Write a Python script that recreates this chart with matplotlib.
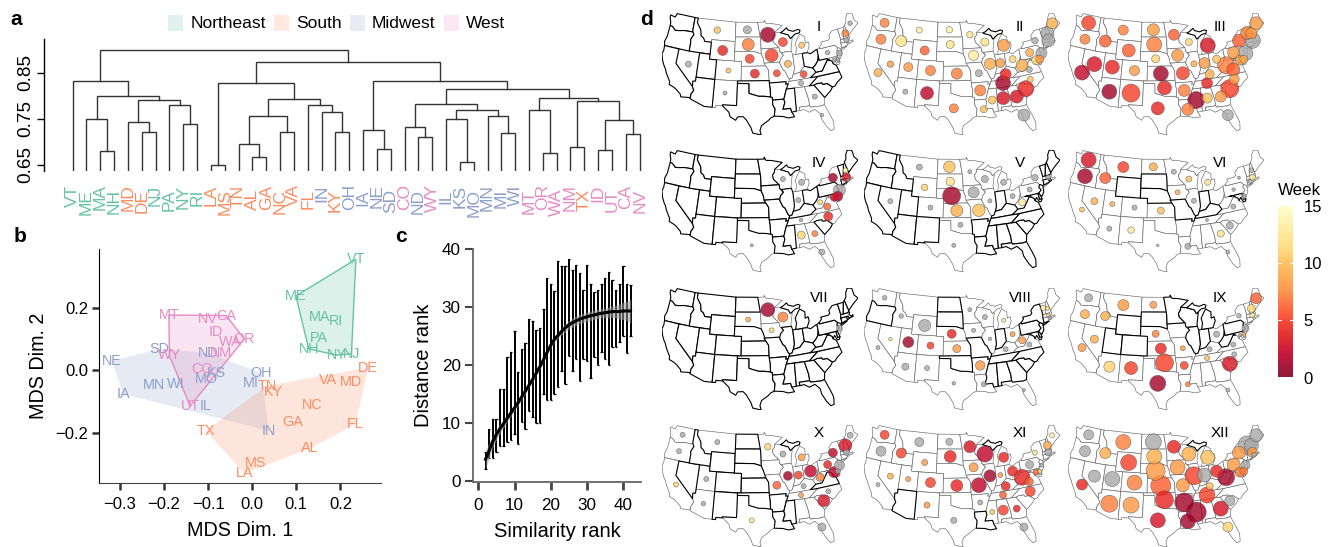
import numpy as np
import matplotlib
matplotlib.use("Agg")
import matplotlib.pyplot as plt
from matplotlib.collections import PolyCollection
from matplotlib.colors import Normalize
from matplotlib.patches import Rectangle

plt.rcParams["font.family"] = ["Liberation Sans", "DejaVu Sans"]

W, H = 1330, 547

# region colours
GREEN, ORANGE, BLUE, PINK = "#66C2A5", "#FC8D62", "#8DA0CB", "#E78AC3"
REGION_NAMES = ["Northeast", "South", "Midwest", "West"]
REGION_COLORS = [GREEN, ORANGE, BLUE, PINK]

NORTHEAST = ["VT", "ME", "MA", "NH", "NJ", "PA", "NY", "RI"]
SOUTH = ["MD", "DE", "LA", "MS", "TN", "AL", "GA", "NC", "VA", "FL", "KY", "TX"]
MIDWEST = ["IN", "OH", "IA", "NE", "SD", "ND", "IL", "KS", "MO", "MN", "MI", "WI"]
WEST = ["CO", "WY", "MT", "OR", "WA", "NM", "ID", "UT", "CA", "NV"]

# ---- panel a: merge tree, (height, left, right) ----
TREE = (0.9004,
        (0.8327, "VT",
         (0.7992,
          (0.749, "ME", (0.679, "MA", "NH")),
          (0.7905,
           (0.7424, "MD", (0.722, "DE", "NJ")),
           (0.7795, "PA", (0.738, "NY", "RI"))))),
        (0.8742,
         (0.8283,
          (0.649, "LA", "MS"),
          (0.792,
           (0.7555,
            (0.695, "TN", (0.6667, "AL", "GA")),
            (0.7213, "NC", "VA")),
           (0.7788, "FL",
            (0.7643, "IN", (0.7213, "KY", "OH"))))),
         (0.8327,
          (0.7257, "IA", (0.6835, "NE", "SD")),
          (0.8152,
           (0.781,
            (0.7308, "CO", (0.7111, "ND", "WY")),
            (0.7686,
             (0.7483, "IL", (0.6551, "KS", "MO")),
             (0.7563, "MN", (0.7191, "MI", "WI")))),
           (0.7956,
            (0.7686, "MT", (0.6762, "OR", "WA")),
            (0.789,
             (0.6886, "NM", "TX"),
             (0.7468,
              (0.6828, "ID", "UT"),
              (0.717, "CA", "NV"))))))))

# ---- panel b: MDS coordinates ----
MDS_NE = {"VT": (0.235, 0.357), "ME": (0.099, 0.239), "MA": (0.152, 0.170), "RI": (0.190, 0.159),
          "PA": (0.150, 0.105), "NH": (0.128, 0.069), "NY": (0.191, 0.049), "NJ": (0.225, 0.053)}
MDS_SOUTH = {"DE": (0.263, 0.008), "VA": (0.172, -0.031), "MD": (0.224, -0.039), "TN": (0.033, -0.049),
             "KY": (0.049, -0.070), "NC": (0.135, -0.111), "GA": (0.091, -0.165), "FL": (0.234, -0.173),
             "AL": (0.131, -0.251), "TX": (-0.106, -0.194), "MS": (0.007, -0.299), "LA": (-0.017, -0.331)}
MDS_MIDWEST = {"IN": (0.037, -0.194), "MI": (-0.004, -0.041), "OH": (0.021, -0.009), "KS": (-0.081, -0.010),
               "MO": (-0.105, -0.028), "IL": (-0.106, -0.113), "WI": (-0.174, -0.043), "MN": (-0.222, -0.047),
               "IA": (-0.293, -0.076), "NE": (-0.318, 0.030), "SD": (-0.211, 0.069), "ND": (-0.100, 0.056)}
MDS_WEST = {"MT": (-0.189, 0.178), "NV": (-0.101, 0.165), "CA": (-0.059, 0.176), "ID": (-0.082, 0.122),
            "WA": (-0.049, 0.092), "OR": (-0.018, 0.101), "NM": (-0.072, 0.055), "WY": (-0.188, 0.048),
            "CO": (-0.115, 0.005), "UT": (-0.141, -0.115)}

# ---- panel c ----
RANKS = list(range(2, 43))
RANK_LOW = [2, 4, 4, 5, 6, 6, 6.7, 7, 8, 6.3, 10.2, 9, 12, 11, 10, 10, 15, 14, 14, 15, 16.2, 19, 16.7, 21.5,
            19, 21, 17.2, 21, 20.7, 17.8, 21.4, 20, 22.3, 21, 20, 23, 23, 24, 25, 22, 25]
RANK_HIGH = [5, 9, 10.7, 10.7, 15.8, 15.8, 21.3, 22.3, 25.8, 18.8, 22.8, 23.8, 28, 27.5, 26, 26.3, 29.6, 35, 34,
             32.8, 38, 37, 37, 38.2, 36.3, 37.3, 35.8, 33, 37.3, 34, 32.5, 33, 34, 35, 36, 34.7, 33, 34, 37, 34, 33.8]
SMOOTH = [3.7, 5.2, 6.8, 8.0, 9.0, 9.9, 10.8, 11.7, 12.6, 13.5, 14.5, 15.5, 16.5, 17.5, 18.6, 19.7, 20.9, 22.2,
          23.4, 24.4, 25.1, 25.8, 26.4, 26.9, 27.3, 27.6, 27.9, 28.1, 28.3, 28.5, 28.6, 28.8, 28.9, 29.0, 29.1,
          29.2, 29.2, 29.2, 29.3, 29.3, 29.3]
SMOOTH_SE = [1.6, 1.3, 1.0, 0.9, 0.8, 0.7, 0.6, 0.6, 0.5, 0.5, 0.5, 0.5, 0.4, 0.4, 0.4, 0.4, 0.4, 0.4, 0.4, 0.5,
             0.5, 0.6, 0.7, 0.7, 0.8, 0.8, 0.8, 0.8, 0.8, 0.8, 0.8, 0.8, 0.8, 0.8, 0.9, 1.0, 1.1, 1.3, 1.5, 1.7, 2.0]

# ---- panel d: state outlines, lon/lat ----
STATES = {
    "WA": [(-124.7, 48.4), (-123.2, 48.2), (-122.8, 49), (-117.03, 49), (-117.04, 46.4), (-116.92, 45.99), (-119, 45.93), (-119.6, 45.92), (-121.2, 45.65), (-122.3, 45.55), (-122.8, 45.9), (-123.4, 46.2), (-124.05, 46.27), (-124.1, 46.9), (-124.7, 47.9)],
    "OR": [(-124.05, 46.27), (-123.4, 46.2), (-122.8, 45.9), (-122.3, 45.55), (-121.2, 45.65), (-119.6, 45.92), (-119, 45.93), (-116.92, 45.99), (-116.5, 45.5), (-117.2, 44.4), (-117.03, 43.8), (-117.03, 42), (-124.2, 42), (-124.5, 42.85), (-124.1, 44)],
    "CA": [(-124.2, 42), (-120, 42), (-120, 39), (-114.6, 35), (-114.14, 34.3), (-114.7, 33.4), (-114.72, 32.72), (-117.12, 32.53), (-117.3, 33), (-118.4, 33.75), (-119.2, 34.15), (-120.6, 34.55), (-120.65, 35.15), (-121.9, 36.6), (-122.5, 37.5), (-123, 38), (-123.75, 39), (-124.35, 40.3), (-124.1, 41)],
    "NV": [(-120, 42), (-114.04, 42), (-114.04, 36.2), (-114.75, 36.1), (-114.6, 35), (-120, 39)],
    "ID": [(-117.03, 49), (-116.05, 49), (-116.05, 48), (-114.7, 46.7), (-114.35, 45.5), (-113.5, 45.1), (-113, 44.45), (-111.05, 44.48), (-111.05, 42), (-117.03, 42), (-117.03, 43.8), (-117.2, 44.4), (-116.5, 45.5), (-116.92, 45.99), (-117.04, 46.4)],
    "MT": [(-116.05, 49), (-104.05, 49), (-104.05, 45), (-111.05, 45), (-111.05, 44.48), (-113, 44.45), (-113.5, 45.1), (-114.35, 45.5), (-114.7, 46.7), (-116.05, 48)],
    "WY": [(-111.05, 45), (-104.05, 45), (-104.05, 41), (-111.05, 41)],
    "UT": [(-114.04, 42), (-111.05, 42), (-111.05, 41), (-109.05, 41), (-109.05, 37), (-114.04, 37)],
    "CO": [(-109.05, 41), (-102.05, 41), (-102.05, 37), (-109.05, 37)],
    "AZ": [(-114.04, 37), (-109.05, 37), (-109.05, 31.33), (-111.07, 31.33), (-114.81, 32.5), (-114.72, 32.72), (-114.7, 33.4), (-114.14, 34.3), (-114.6, 35), (-114.75, 36.1), (-114.04, 36.2)],
    "NM": [(-109.05, 37), (-103, 37), (-103.05, 32), (-106.6, 32), (-106.5, 31.78), (-108.2, 31.78), (-108.2, 31.33), (-109.05, 31.33)],
    "ND": [(-104.05, 49), (-97.2, 49), (-96.56, 45.94), (-104.05, 45.94)],
    "SD": [(-104.05, 45.94), (-96.56, 45.94), (-96.45, 45.3), (-96.45, 42.5), (-98.5, 43), (-104.05, 43)],
    "NE": [(-104.05, 43), (-98.5, 43), (-96.45, 42.5), (-95.9, 41.5), (-95.3, 40), (-102.05, 40), (-102.05, 41), (-104.05, 41)],
    "KS": [(-102.05, 40), (-95.3, 40), (-94.6, 39.1), (-94.62, 37), (-102.05, 37)],
    "OK": [(-103, 37), (-94.62, 37), (-94.43, 35.4), (-94.48, 33.64), (-96, 33.85), (-97.5, 33.9), (-99.5, 34.4), (-100, 34.56), (-100, 36.5), (-103, 36.5)],
    "TX": [(-103.05, 32), (-103, 36.5), (-100, 36.5), (-100, 34.56), (-99.5, 34.4), (-97.5, 33.9), (-96, 33.85), (-94.48, 33.64), (-94.04, 33.55), (-94.04, 31.99), (-93.53, 31.2), (-93.85, 29.7), (-94.7, 29.4), (-95.3, 28.9), (-97, 27.9), (-97.4, 26.9), (-97.15, 25.96), (-99.1, 26.4), (-99.5, 27.5), (-100.6, 29.1), (-101.4, 29.77), (-102.7, 29.7), (-103.15, 28.98), (-104.5, 29.65), (-104.9, 30.6), (-106.5, 31.78), (-106.6, 32)],
    "MN": [(-97.2, 49), (-95.15, 49), (-95.15, 49.38), (-94.6, 48.7), (-92.9, 48.6), (-89.6, 48), (-92.1, 46.75), (-92.3, 46.1), (-92.9, 45.6), (-92.75, 44.75), (-91.2, 43.5), (-96.45, 43.5), (-96.45, 45.3), (-96.56, 45.94)],
    "IA": [(-96.45, 43.5), (-91.2, 43.5), (-91.1, 42.7), (-90.15, 41.9), (-91.1, 41.2), (-91.42, 40.38), (-91.7, 40.6), (-95.77, 40.58), (-95.9, 41.5), (-96.45, 42.5)],
    "MO": [(-95.77, 40.58), (-91.7, 40.6), (-91.42, 40.38), (-90.7, 39), (-90.2, 38.7), (-89.5, 37.3), (-89.13, 36.98), (-89.4, 36.5), (-89.7, 36), (-90.37, 36), (-90.15, 36.5), (-94.62, 36.5), (-94.62, 37), (-94.6, 39.1), (-95.3, 40)],
    "AR": [(-94.62, 36.5), (-90.15, 36.5), (-90.37, 36), (-89.7, 36), (-90.3, 35), (-91.17, 33), (-94.04, 33), (-94.04, 33.55), (-94.48, 33.64), (-94.43, 35.4)],
    "LA": [(-94.04, 33), (-91.17, 33), (-91, 32.3), (-91.6, 31), (-89.73, 31), (-89.55, 30.2), (-89.4, 30), (-89, 29.2), (-90.5, 29.1), (-91.8, 29.5), (-93.85, 29.7), (-93.53, 31.2), (-94.04, 31.99)],
    "WI": [(-92.1, 46.75), (-90.4, 46.55), (-88.1, 45.9), (-87.6, 45.1), (-87, 45.3), (-87.8, 43), (-87.8, 42.5), (-90.65, 42.5), (-91.1, 42.7), (-91.2, 43.5), (-92.75, 44.75), (-92.9, 45.6), (-92.3, 46.1)],
    "IL": [(-90.65, 42.5), (-87.8, 42.5), (-87.53, 41.7), (-87.53, 39.35), (-87.6, 38.7), (-88.05, 37.8), (-88.5, 37.1), (-89.13, 36.98), (-89.5, 37.3), (-90.2, 38.7), (-90.7, 39), (-91.42, 40.38), (-91.1, 41.2), (-90.15, 41.9)],
    "IN": [(-87.53, 41.7), (-87.2, 41.75), (-84.8, 41.75), (-84.8, 39.1), (-85.4, 38.7), (-86.3, 38), (-88.05, 37.8), (-87.6, 38.7), (-87.53, 39.35)],
    "MI": [(-86.8, 41.76), (-84.8, 41.75), (-83.45, 41.73), (-82.5, 43), (-82.6, 43.9), (-83.5, 43.7), (-83.3, 45), (-84.7, 45.75), (-85.5, 45), (-86.4, 44), (-86.2, 43), (-86.6, 42)],
    "MIU": [(-90.4, 46.55), (-88.1, 45.9), (-87.6, 45.1), (-86, 45.9), (-84.7, 46), (-84.4, 46.5), (-85, 46.75), (-86.5, 46.5), (-88, 46.9), (-88.4, 47.4), (-89.5, 46.85)],
    "OH": [(-84.8, 41.75), (-83.45, 41.73), (-82.5, 41.4), (-81, 41.9), (-80.52, 42), (-80.52, 40.64), (-80.9, 39.7), (-81.7, 39), (-82.6, 38.45), (-84.8, 39.1)],
    "KY": [(-89.4, 36.5), (-88.05, 36.5), (-83.68, 36.6), (-82, 37.5), (-82.6, 38.45), (-84.8, 39.1), (-85.4, 38.7), (-86.3, 38), (-88.05, 37.8), (-88.5, 37.1), (-89.13, 36.98)],
    "TN": [(-90.3, 35), (-89.7, 36), (-89.4, 36.5), (-88.05, 36.5), (-83.68, 36.6), (-81.68, 36.59), (-84.3, 35)],
    "MS": [(-90.3, 35), (-88.2, 35), (-88.4, 30.3), (-89.55, 30.2), (-89.73, 31), (-91.6, 31), (-91, 32.3), (-91.17, 33)],
    "AL": [(-88.2, 35), (-85.6, 35), (-85, 32.3), (-85, 31), (-87.6, 31), (-87.5, 30.3), (-88.4, 30.3)],
    "GA": [(-85.6, 35), (-83.1, 35), (-81, 32.1), (-81.4, 30.7), (-82.2, 30.55), (-84.86, 30.7), (-85, 31), (-85, 32.3)],
    "FL": [(-87.6, 31), (-85, 31), (-84.86, 30.7), (-82.2, 30.55), (-81.4, 30.7), (-80.5, 28.3), (-80.05, 26.8), (-80.3, 25.3), (-81.1, 25.15), (-81.8, 26.1), (-82.7, 27.9), (-82.8, 29), (-83.9, 30.1), (-85.3, 29.7), (-86.5, 30.4), (-87.5, 30.3)],
    "SC": [(-83.1, 35), (-82.3, 35.2), (-81, 35.15), (-80.8, 34.8), (-79.7, 34.8), (-78.55, 33.86), (-79.2, 33.2), (-81, 32.1)],
    "NC": [(-84.3, 35), (-83.1, 35), (-82.3, 35.2), (-81, 35.15), (-80.8, 34.8), (-79.7, 34.8), (-78.55, 33.86), (-77.9, 33.9), (-77, 34.6), (-75.6, 35.3), (-75.9, 36.55), (-81.68, 36.59)],
    "VA": [(-83.68, 36.6), (-81.68, 36.59), (-75.9, 36.55), (-76, 37), (-76.3, 38), (-77, 38.4), (-77.1, 38.9), (-77.7, 39.32), (-78.4, 39.4), (-79, 38.8), (-80.3, 37.5), (-82, 37.5)],
    "WV": [(-82.6, 38.45), (-82, 37.5), (-80.3, 37.5), (-79, 38.8), (-78.4, 39.4), (-77.7, 39.32), (-78.4, 39.72), (-79.48, 39.72), (-80.52, 39.72), (-80.52, 40.64), (-80.9, 39.7), (-81.7, 39)],
    "MD": [(-79.48, 39.72), (-75.79, 39.72), (-75.7, 38.46), (-75.05, 38.45), (-75.4, 38), (-75.9, 37.95), (-76.4, 39), (-77, 38.4), (-77.1, 38.9), (-77.7, 39.32), (-78.4, 39.72)],
    "DE": [(-75.79, 39.72), (-75.4, 39.8), (-75.05, 38.45), (-75.7, 38.46)],
    "PA": [(-80.52, 42), (-79.76, 42.27), (-79.76, 42), (-75.35, 42), (-74.7, 41.36), (-75.1, 40.9), (-74.7, 40.2), (-75.4, 39.8), (-75.79, 39.72), (-80.52, 39.72)],
    "NJ": [(-74.7, 41.36), (-73.9, 41), (-74, 40.5), (-74.1, 39.7), (-74.9, 38.95), (-75.5, 39.5), (-75.4, 39.8), (-74.7, 40.2), (-75.1, 40.9)],
    "NY": [(-79.76, 42), (-79.76, 42.27), (-78.9, 42.9), (-79.05, 43.27), (-76.8, 43.3), (-76.2, 43.6), (-76.3, 44.2), (-75, 45), (-73.35, 45), (-73.25, 43.6), (-73.25, 42.75), (-73.5, 42.05), (-73.5, 41.3), (-73.65, 41), (-72, 41.1), (-73.9, 40.55), (-73.9, 41), (-74.7, 41.36), (-75.35, 42)],
    "CT": [(-73.5, 42.05), (-71.8, 42.02), (-71.8, 41.32), (-73.65, 41), (-73.5, 41.3)],
    "RI": [(-71.8, 42.02), (-71.38, 42.02), (-71.15, 41.5), (-71.8, 41.32)],
    "MA": [(-73.5, 42.05), (-73.25, 42.75), (-71.3, 42.7), (-70.8, 42.87), (-70.6, 42.65), (-71, 42.3), (-70.55, 41.8), (-70, 42), (-69.95, 41.67), (-71.15, 41.5), (-71.38, 42.02)],
    "VT": [(-73.35, 45), (-71.5, 45), (-72.5, 42.73), (-73.25, 42.75), (-73.25, 43.6)],
    "NH": [(-71.5, 45), (-71.08, 45.3), (-70.7, 43.07), (-70.8, 42.87), (-71.3, 42.7), (-72.5, 42.73)],
    "ME": [(-71.08, 45.3), (-70.3, 45.9), (-70, 46.7), (-69.2, 47.45), (-68.3, 47.35), (-67.8, 47.07), (-67.8, 45.7), (-67, 44.85), (-69, 44), (-70.7, 43.07)],
}

# state: (week, bubble diameter), week None is a grey bubble
PANEL_I = {"MN": (1, 15), "WI": (5, 9), "MI": (10, 6), "MT": (10, 6.5), "ND": (None, 8), "SD": (7, 12), "WY": (4, 10),
           "NE": (5, 9), "IA": (5, 13), "IL": (9, 7), "MO": (5, 7), "KS": (4, 9), "KY": (5, 7), "TN": (None, 5),
           "NV": (None, 6), "CO": (10, 5), "NM": (None, 4), "GA": (None, 5), "FL": (None, 3.5), "PA": (None, 4.5),
           "NH": (7, 7), "ME": (None, 4.5), "MA": (None, 5), "NJ": (None, 6), "DE": (None, 4), "MD": (None, 4)}
PANEL_II = {"WA": (7, 9), "OR": (7, 10), "ID": (12, 11), "MT": (13, 6), "WY": (6, 9), "ND": (13, 6.5), "SD": (12, 8),
            "MN": (12, 6.5), "WI": (12, 8), "MI": (8, 12), "IA": (13, 10), "IL": (9, 11), "IN": (8, 9), "OH": (11, 7),
            "WV": (9, 12), "PA": (9, 8), "NY": (None, 6.5), "NH": (None, 13), "ME": (9, 11), "MA": (None, 13),
            "NJ": (None, 11), "MD": (11, 9), "DE": (8, 8), "VA": (None, 6), "NC": (10, 6), "NV": (8, 6.5), "UT": (8, 9),
            "CO": (7, 10), "CA": (9, 8), "KS": (7, 11), "MO": (None, 7), "AZ": (None, 5), "NM": (2, 13), "TX": (7, 9),
            "AR": (7, 11), "LA": (10, 7), "MS": (10, 8), "AL": (3, 13), "TN": (1, 15), "KY": (4, 11), "GA": (3, 13),
            "SC": (4, 16), "FL": (None, 12)}
PANEL_III = {"WA": (5, 14), "OR": (7, 10), "MT": (7, 10), "ND": (8, 12), "MN": (6, 11), "WI": (11, 7), "MI": (3, 15),
             "ID": (6, 12), "WY": (6, 13), "SD": (7, 15), "IA": (8, 12), "NE": (11, 8), "IL": (9, 6), "IN": (8, 11),
             "OH": (10, 8), "NV": (3, 15), "UT": (4, 14), "CO": (8, 10), "KS": (1, 15), "MO": (5, 13), "CA": (2, 15),
             "KY": (9, 9), "WV": (7, 17), "VA": (6, 13), "PA": (8, 12), "NY": (6, 13), "ME": (8, 13), "VT": (7, 13),
             "NH": (8, 11), "MA": (None, 16), "NJ": (None, 15), "MD": (8, 10), "DE": (9, 8), "NC": (8, 10), "TN": (4, 11),
             "SC": (5, 18), "GA": (8, 11), "AL": (10, 10), "MS": (1, 17), "AR": (7, 12), "LA": (7, 12), "OK": (4, 14),
             "TX": (4, 13), "NM": (5, 18), "AZ": (1, 15), "FL": (None, 11)}
PANEL_IV = {"WI": (None, 5), "MI": (None, 6), "IN": (None, 5), "NY": (1, 9), "MA": (3, 9), "NH": (13, 5), "NJ": (None, 12),
            "MD": (3, 8), "DE": (2, 10), "WV": (11, 5), "VA": (6, 7), "NC": (4, 9), "TN": (None, 3.5), "AL": (11, 8),
            "GA": (7, 6), "TX": (None, 3), "FL": (None, 6), "RI": (None, 3)}
PANEL_V = {"MT": (None, 6), "ND": (10, 11.5), "MN": (None, 4), "WI": (None, 7), "SD": (12, 8.5), "WY": (11, 6.5),
           "IA": (None, 11), "MI": (None, 6), "NE": (1, 18), "IL": (None, 4), "NV": (None, 5), "CO": (None, 5),
           "KS": (9, 12), "MO": (10, 12.5), "OK": (None, 5), "TX": (None, 4), "WV": (13, 7), "PA": (None, 5),
           "NY": (None, 6.5), "MA": (None, 5), "OH": (None, 5)}
PANEL_VI = {"WA": (3, 15), "OR": (1, 15), "ID": (6, 11), "MT": (5, 11), "ND": (9, 8), "MN": (None, 5), "WI": (10, 6),
            "MI": (12, 6), "IA": (9, 5), "IL": (None, 5), "NV": (9, 7), "UT": (9, 5), "CO": (None, 5), "CA": (10, 5),
            "KS": (10, 7), "AZ": (None, 5), "NM": (13, 6.5), "TX": (None, 2.5), "LA": (None, 6), "GA": (12, 7),
            "SC": (None, 7), "FL": (None, 4), "TN": (None, 3), "VA": (None, 5), "PA": (None, 3.5), "NY": (None, 3),
            "NH": (None, 5), "MA": (12, 6), "DE": (None, 5), "CT": (None, 4)}
PANEL_VII = {"MN": (1, 14), "WI": (7, 10), "SD": (9, 5), "IA": (11, 5), "NJ": (None, 6)}
PANEL_VIII = {"WA": (None, 4.5), "ID": (None, 4.5), "WY": (None, 12), "UT": (1, 11), "CO": (5, 7), "NV": (12, 3.5),
              "CA": (None, 4), "AZ": (None, 7), "NM": (None, 5), "NE": (4, 9), "KS": (8, 8), "MN": (None, 4),
              "WI": (None, 5), "IA": (None, 4), "MI": (12, 4), "IL": (None, 3.5), "AR": (8, 9.5), "TX": (None, 3.5),
              "LA": (None, 5), "VT": (13, 5), "NH": (11, 4), "MA": (10, 4), "RI": (None, 4), "OH": (8, 5),
              "KY": (None, 5), "WV": (8, 7), "VA": (None, 5), "FL": (None, 3)}
PANEL_IX = {"WA": (None, 8), "OR": (9, 9), "ID": (9, 9), "MT": (8, 11), "ND": (8, 7), "NV": (9, 8), "CA": (8, 8),
            "AZ": (11, 11), "NM": (5, 13), "NE": (7, 7), "KS": (4, 11), "OK": (5, 18), "TX": (1, 16), "MO": (8, 5),
            "AR": (5, 8), "LA": (7, 5), "TN": (10, 5), "KY": (None, 5), "OH": (None, 6), "VA": (None, 5), "NC": (None, 5),
            "SC": (3, 15), "FL": (None, 4), "ME": (6, 11), "NH": (11, 8), "MA": (12, 5), "NY": (None, 4.5),
            "NJ": (None, 7), "DE": (9, 4), "MD": (None, 3)}
PANEL_X = {"WA": (None, 5), "OR": (None, 5), "MT": (None, 5), "MN": (11, 6.5), "WI": (None, 6), "MI": (8, 7), "CA": (11, 5),
           "UT": (None, 5), "AZ": (None, 4.5), "TX": (12, 5), "MO": (6, 8), "IL": (1, 9), "IN": (5, 8), "OH": (2, 12),
           "WV": (7, 8), "KY": (None, 5), "PA": (4, 8), "NY": (2, 9), "NH": (3, 13), "ME": (None, 6), "MA": (None, 6),
           "NJ": (None, 10), "MD": (2, 11), "DE": (None, 5), "NC": (None, 5), "TN": (8, 5), "SC": (3, 12), "FL": (None, 8)}
PANEL_XI = {"WA": (5, 9), "OR": (None, 10), "MT": (None, 9), "ID": (5, 10), "ND": (None, 7), "MN": (3, 12), "WI": (2, 16),
            "MI": (4, 10), "WY": (8, 6), "SD": (4, 12), "IA": (8, 9), "IL": (1, 12), "IN": (8, 5), "OH": (4, 10),
            "NV": (9, 6), "UT": (8, 5), "CA": (None, 4), "CO": (5, 10), "KS": (4, 12), "MO": (2, 15), "KY": (4, 9),
            "WV": (4, 16), "VA": (6, 8), "NC": (5, 10), "PA": (None, 8), "NY": (12, 5), "NH": (9, 8), "ME": (13, 5),
            "MA": (None, 7), "NJ": (None, 4), "DE": (12, 4), "MD": (6, 6), "TN": (6, 7), "AL": (5, 10), "GA": (4, 7),
            "MS": (10, 5), "AR": (None, 5), "NM": (8, 6), "TX": (None, 6), "FL": (None, 8)}
PANEL_XII = {"WA": (None, 10), "OR": (None, 11), "MT": (7, 15), "ND": (None, 16), "MN": (4, 13), "WI": (9, 14),
             "MI": (10, 14), "ID": (9, 11), "WY": (5, 16), "SD": (9, 15), "IA": (8, 15), "NE": (8, 19), "IL": (5, 18),
             "IN": (None, 14), "OH": (4, 12), "NV": (None, 12), "UT": (None, 15), "CO": (7, 15), "KS": (6, 20),
             "MO": (8, 13), "KY": (10, 7), "WV": (1, 17), "CA": (4, 11), "AZ": (7, 17), "NM": (8, 16), "OK": (4, 18),
             "AR": (1, 19), "TN": (5, 16), "SC": (None, 10), "GA": (3, 15), "MS": (1, 20), "LA": (1, 15), "TX": (3, 15),
             "FL": (11, 10), "PA": (8, 13), "NY": (8, 13), "VT": (None, 18), "NH": (None, 14), "ME": (None, 13),
             "MA": (8, 10), "RI": (None, 5), "NJ": (None, 9), "MD": (7, 10), "DE": (7, 8)}
PANELS = [PANEL_I, PANEL_II, PANEL_III, PANEL_IV, PANEL_V, PANEL_VI, PANEL_VII, PANEL_VIII, PANEL_IX, PANEL_X, PANEL_XI, PANEL_XII]
PANEL_NAMES = ["I", "II", "III", "IV", "V", "VI", "VII", "VIII", "IX", "X", "XI", "XII"]

# states with no bubble but still drawn with a thin grey outline
ALL_THIN = set(STATES) - {"MIU"}
THIN_STATES = [
    {"AL", "IN", "NY", "VT", "CT", "RI", "NJ", "DE", "MD", "MA"},
    ALL_THIN,
    ALL_THIN,
    set(),
    {"MIU"},
    {"OK", "AR", "AL", "MS", "NC", "WV", "OH", "NJ", "CT", "RI", "VT", "ME", "MIU"},
    set(),
    {"MT", "MIU", "ME", "CT"},
    {"GA", "AL", "MS", "IA", "VT", "CT", "RI"},
    {"IA", "AL", "GA", "VT", "CT", "RI", "IN", "WI"},
    {"NE", "OK", "AL", "SC", "VT", "CT", "RI"},
    ALL_THIN,
]
COL_LEFT = [662, 864, 1068]
ROW_TOP = [13, 150, 288, 425]
NAME_X = [819, 1020, 1220]
NAME_Y = [27, 163, 298, 433]

WEEK_TICKS = [0, 5, 10, 15]


def add_axes(left, top, right, bottom):
    # rectangle in reference pixels, y measured from the top
    return fig.add_axes([left / W, 1 - bottom / H, (right - left) / W, (bottom - top) / H])


def albers(lon, lat, lon0=-100.0, lat0=37.5, p1=29.5, p2=45.5):
    lon, lat = np.radians(lon), np.radians(lat)
    lon0, lat0, p1, p2 = map(np.radians, (lon0, lat0, p1, p2))
    n = (np.sin(p1) + np.sin(p2)) / 2
    c = np.cos(p1) ** 2 + 2 * n * np.sin(p1)
    rho = np.sqrt(c - 2 * n * np.sin(lat)) / n
    rho0 = np.sqrt(c - 2 * n * np.sin(lat0)) / n
    x = rho * np.sin(n * (lon - lon0))
    y = rho0 - rho * np.cos(n * (lon - lon0))
    return x, y


def centroid(xy):
    x, y = xy[:, 0], xy[:, 1]
    x2, y2 = np.roll(x, -1), np.roll(y, -1)
    cross = x * y2 - x2 * y
    area = cross.sum() / 2
    return ((x + x2) * cross).sum() / (6 * area), ((y + y2) * cross).sum() / (6 * area)


def convex_hull(points):
    pts = sorted(points)
    def half(seq):
        out = []
        for p in seq:
            while len(out) > 1 and ((out[-1][0] - out[-2][0]) * (p[1] - out[-2][1])
                                    - (out[-1][1] - out[-2][1]) * (p[0] - out[-2][0])) <= 0:
                out.pop()
            out.append(p)
        return out[:-1]
    return half(pts) + half(pts[::-1])


def leaves(node):
    if isinstance(node, str):
        return [node]
    return leaves(node[1]) + leaves(node[2])


fig = plt.figure(figsize=(W / 100, H / 100), dpi=100)

# ---- panel a ----
ax = add_axes(44.4, 39, 650, 171)
order = leaves(TREE)
LEAF_H = 0.636
ax.set_xlim((44.4 - 72.6) / 13.83, (650 - 72.6) / 13.83)
ax.set_ylim(LEAF_H, 0.9236)


def draw_node(node):
    if isinstance(node, str):
        return order.index(node), LEAF_H
    x1, h1 = draw_node(node[1])
    x2, h2 = draw_node(node[2])
    ax.plot([x1, x1, x2, x2], [h1, node[0], node[0], h2], color="#333333", lw=1.0, solid_joinstyle="miter")
    return (x1 + x2) / 2, node[0]


draw_node(TREE)
for sp in ["top", "right", "bottom"]:
    ax.spines[sp].set_visible(False)
ax.spines["left"].set_linewidth(1.0)
ax.set_xticks([])
ax.set_yticks([0.65, 0.75, 0.85])
ax.set_yticklabels(["0.65", "0.75", "0.85"], rotation=90, va="center", fontsize=13.7)
ax.tick_params(axis="y", length=5, width=1.0, pad=2)

for i, st in enumerate(order):
    col = GREEN if st in NORTHEAST else ORANGE if st in SOUTH else BLUE if st in MIDWEST else PINK
    top = 184.5 if i % 2 == 0 else 189
    fig.text((72.6 + i * 13.83) / W, 1 - top / H, st, rotation=90, ha="center", va="top", color=col, fontsize=12.5)

# legend
for name, col, sx, tx in zip(REGION_NAMES, REGION_COLORS, [168, 274, 350, 444], [191, 296, 372, 466]):
    fig.add_artist(Rectangle((sx / W, 1 - 31 / H), 14.5 / W, 16 / H, transform=fig.transFigure, color=col, alpha=0.2, lw=0))
    fig.text(tx / W, 1 - 23.5 / H, name, ha="left", va="center", fontsize=12.5)

# ---- panel b ----
ax = add_axes(99.3, 249, 381, 482.7)
ax.set_xlim(-0.347, 0.292)
ax.set_ylim(-0.361, 0.39)
for mds, col, edge in [(MDS_MIDWEST, BLUE, False), (MDS_SOUTH, ORANGE, False), (MDS_WEST, PINK, True), (MDS_NE, GREEN, True)]:
    hull = np.array(convex_hull(list(mds.values())))
    ax.fill(hull[:, 0], hull[:, 1], color=col, alpha=0.22, lw=0)
    if edge:
        ax.fill(hull[:, 0], hull[:, 1], facecolor="none", edgecolor=col, lw=1.0)
    for st, (x, y) in mds.items():
        ax.text(x, y, st, color=col, fontsize=10.4, ha="center", va="center")
for sp in ["top", "right"]:
    ax.spines[sp].set_visible(False)
ax.spines["bottom"].set_color("#444444")
ax.set_xticks([-0.3, -0.2, -0.1, 0.0, 0.1, 0.2])
ax.set_xticklabels(["\u22120.3", "\u22120.2", "\u22120.1", "0.0", "0.1", "0.2"], fontsize=12)
ax.set_yticks([-0.2, 0.0, 0.2])
ax.set_yticklabels(["\u22120.2", "0.0", "0.2"], fontsize=12)
ax.tick_params(length=5, width=1.8, color="#333333", pad=5)
ax.tick_params(axis="y", pad=3)
ax.set_xlabel("MDS Dim. 1", fontsize=14.2, labelpad=7)
ax.set_ylabel("MDS Dim. 2", fontsize=14.2, labelpad=5)

# ---- panel c ----
ax = add_axes(473.3, 249, 640.7, 482.3)
ax.set_xlim(-1.38, 44.8)
ax.set_ylim(-0.28, 40)
ranks = np.array(RANKS)
smooth, se = np.array(SMOOTH), np.array(SMOOTH_SE)
ax.vlines(ranks, RANK_LOW, RANK_HIGH, color="black", lw=1.4, zorder=2)
ax.hlines(RANK_LOW, ranks - 0.35, ranks + 0.35, color="black", lw=0.9, zorder=2)
ax.hlines(RANK_HIGH, ranks - 0.35, ranks + 0.35, color="black", lw=0.9, zorder=2)
ax.fill_between(ranks, smooth - se, smooth + se, color="#999999", alpha=0.55, lw=0, zorder=3)
ax.plot(ranks, smooth, color="black", lw=2.2, zorder=4)
for sp in ["top", "right"]:
    ax.spines[sp].set_visible(False)
for sp in ["left", "bottom"]:
    ax.spines[sp].set_color("#666666")
    ax.spines[sp].set_linewidth(1.3)
ax.set_xticks([0, 10, 20, 30, 40])
ax.set_yticks([0, 10, 20, 30, 40])
ax.tick_params(axis="x", length=6, width=2.0, color="#444444", labelsize=12.3, pad=5)
ax.tick_params(axis="y", length=6, width=1.5, color="#444444", labelsize=12.3, pad=3)
ax.set_xlabel("Similarity rank", fontsize=14.5, labelpad=7)
ax.set_ylabel("Distance rank", fontsize=14.5, labelpad=6)

# ---- panel d ----
projected = {k: np.column_stack(albers(*np.array(v).T)) for k, v in STATES.items()}
every = np.vstack(list(projected.values()))
xmin, ymin = every.min(axis=0)
xmax, ymax = every.max(axis=0)
map_w, map_h = 196, 122
cmap = plt.get_cmap("YlOrRd_r")
norm = Normalize(0, 15)

for k, bubbles in enumerate(PANELS):
    row, col = divmod(k, 3)
    ax = add_axes(COL_LEFT[col], ROW_TOP[row], COL_LEFT[col] + map_w, ROW_TOP[row] + map_h)
    ax.set_xlim(xmin, xmax)
    ax.set_ylim(ymin, ymax)
    ax.axis("off")
    thick = [s for s in STATES if s not in bubbles and s not in THIN_STATES[k]]
    thin = [s for s in STATES if s not in thick]
    ax.add_collection(PolyCollection([projected[s] for s in thin], facecolor="white", edgecolor="#666666", linewidth=0.45, zorder=1))
    ax.add_collection(PolyCollection([projected[s] for s in thick], facecolor="white", edgecolor="black", linewidth=0.8, zorder=2))
    ranked = sorted(bubbles.items(), key=lambda kv: -kv[1][1])
    xy = np.array([centroid(projected[s]) for s, _ in ranked])
    colors = [(0.66, 0.66, 0.66, 1) if v[0] is None else cmap(norm(v[0])) for _, v in ranked]
    sizes = [(v[1] * 0.72) ** 2 for _, v in ranked]
    ax.scatter(xy[:, 0], xy[:, 1], s=sizes, c=colors, alpha=0.8, edgecolors="#555555", linewidths=0.4, clip_on=False, zorder=3)
    fig.text(NAME_X[col] / W, 1 - NAME_Y[row] / H, PANEL_NAMES[k], ha="center", va="center", fontsize=11)

# colour bar
cax = add_axes(1277.7, 206, 1292.7, 377.5)
cax.imshow(np.linspace(15, 0, 256).reshape(-1, 1), cmap=cmap, norm=norm, aspect="auto", alpha=0.9, extent=[0, 1, 0, 15])
for sp in cax.spines.values():
    sp.set_visible(False)
cax.set_xticks([])
cax.yaxis.tick_right()
cax.set_yticks(WEEK_TICKS)
cax.tick_params(axis="y", length=0, labelsize=12, pad=8)
for v in WEEK_TICKS[1:-1]:
    cax.plot([0, 0.2], [v, v], color="white", lw=0.7)
    cax.plot([0.8, 1], [v, v], color="white", lw=0.7)
cax.set_xlim(0, 1)
cax.set_ylim(0, 15)
fig.text(1278 / W, 1 - 190 / H, "Week", ha="left", va="center", fontsize=12.2)

# panel letters
for letter, x, y in [("a", 10, 25), ("b", 14, 242), ("c", 395, 242), ("d", 640, 25)]:
    fig.text(x / W, 1 - y / H, letter, fontweight="bold", fontsize=15, ha="left", va="baseline")

fig.savefig("out.png", dpi=100)
